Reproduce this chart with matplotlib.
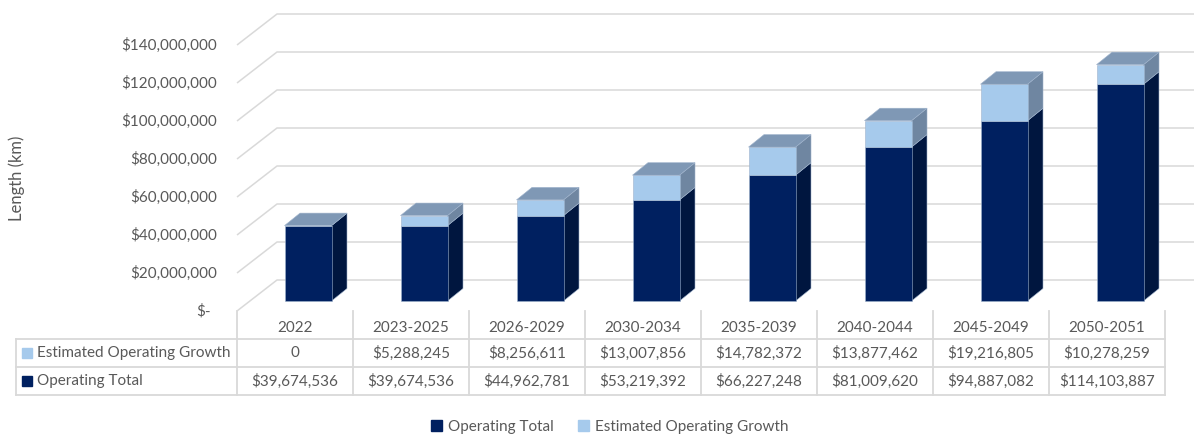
import matplotlib.pyplot as plt
from matplotlib.patches import Polygon, Patch

categorias = ['2022', '2023-2025', '2026-2029', '2030-2034', '2035-2039',
              '2040-2044', '2045-2049', '2050-2051']
crecimiento = [0, 5288245, 8256611, 13007856, 14782372, 13877462, 19216805, 10278259]
total_operativo = [39674536, 39674536, 44962781, 53219392, 66227248,
                   81009620, 94887082, 114103887]
ticks_y = [0, 20000000, 40000000, 60000000, 80000000, 100000000, 120000000, 140000000]
etiquetas_filas = ['Estimated Operating Growth', 'Operating Total']

plt.rcParams['font.family'] = ['Lato', 'DejaVu Sans']
GRIS = '#595959'
LINEA = '#D9D9D9'
AZUL = '#002060'
AZUL_LADO = '#00163F'
CLARO = '#A6CAEC'
CLARO_LADO = '#6F86A1'
TAPA = '#7F98B5'

# escala: 116 px por categoria, 1.9 px por millon, origen en (237, 311) px
PX_CAT = 116.0
PX_M = 1.9e-6
W, H = 1194, 434


def px_x(p):
    return -0.5 + (p - 237) / PX_CAT


def px_y(p):
    return (311 - p) / PX_M


fig = plt.figure(figsize=(W / 100, H / 100), dpi=100)
ax = fig.add_axes([0, 0, 1, 1])
ax.set_xlim(px_x(0), px_x(W))
ax.set_ylim(px_y(H), px_y(0))
ax.set_axis_off()

# profundidad de la pared y de las barras
pared_dx, pared_dy = 40 / PX_CAT, 31 / PX_M
fx, fy = 13 / PX_CAT, 10 / PX_M
bx, by = 15.5 / PX_CAT, 12.5 / PX_M
hw = 23.5 / PX_CAT
n = len(categorias)

# lineas de cuadricula (suelo + pared del fondo)
for v in ticks_y:
    ax.plot([-0.5, -0.5 + pared_dx, n - 0.5 + pared_dx], [v, v + pared_dy, v + pared_dy],
            color=LINEA, lw=1.1, zorder=1, solid_capstyle='butt')
    txt = '$-' if v == 0 else f'${v:,.0f}'
    xt = px_x(211) if v == 0 else px_x(217)
    ax.text(xt, v, txt, ha='right', va='center', color=GRIS, fontsize=11)

ax.text(px_x(17), px_y(178), 'Length (km)', rotation=90, ha='center', va='center',
        color=GRIS, fontsize=12)


def caja(xc, y0, y1, c_frente, c_lado, c_tapa=None):
    x0, x1 = xc - hw + fx, xc + hw + fx
    a0, a1 = y0 + fy, y1 + fy
    lado = [(x1, a0), (x1 + bx, a0 + by), (x1 + bx, a1 + by), (x1, a1)]
    frente = [(x0, a0), (x1, a0), (x1, a1), (x0, a1)]
    ax.add_patch(Polygon(lado, closed=True, fc=c_lado, ec='#9FB3CC', lw=0.4, zorder=3))
    ax.add_patch(Polygon(frente, closed=True, fc=c_frente, ec='#9FB3CC', lw=0.4, zorder=3))
    if c_tapa:
        tapa = [(x0, a1), (x1, a1), (x1 + bx, a1 + by), (x0 + bx, a1 + by)]
        ax.add_patch(Polygon(tapa, closed=True, fc=c_tapa, ec='#9FB3CC', lw=0.4, zorder=3))


for i in range(n):
    base = total_operativo[i]
    caja(i, 0, base, AZUL, AZUL_LADO)
    caja(i, base, base + crecimiento[i], CLARO, CLARO_LADO, TAPA)

# tabla de datos
filas_px = [311, 339, 367, 395]
for k in range(n + 1):
    ax.plot([k - 0.5, k - 0.5], [px_y(311), px_y(395)], color=LINEA, lw=1.3, zorder=1)
ax.plot([px_x(16), px_x(16)], [px_y(339), px_y(395)], color=LINEA, lw=1.3, zorder=1)
for p in filas_px[1:]:
    ax.plot([px_x(16), n - 0.5], [px_y(p), px_y(p)], color=LINEA, lw=1.3, zorder=1)

for i, cat in enumerate(categorias):
    ax.text(i, px_y(328), cat, ha='center', va='center', color=GRIS, fontsize=11)
    g = crecimiento[i]
    ax.text(i, px_y(353), '0' if g == 0 else f'${g:,.0f}', ha='center', va='center',
            color=GRIS, fontsize=11)
    ax.text(i, px_y(381), f'${total_operativo[i]:,.0f}', ha='center', va='center',
            color=GRIS, fontsize=11)

for etiqueta, color, yp in zip(etiquetas_filas, [CLARO, AZUL], [353, 381]):
    ax.plot(px_x(27), px_y(yp), marker='s', ms=6.5, color=color, mec=color, ls='none')
    ax.text(px_x(37), px_y(yp), etiqueta, ha='left', va='center', color=GRIS, fontsize=11)

# leyenda
handles = [Patch(color=AZUL, label='Operating Total'),
           Patch(color=CLARO, label='Estimated Operating Growth')]
fig.legend(handles=handles, loc='center', bbox_to_anchor=(610 / W, 7 / H), ncol=2,
           frameon=False, fontsize=11, labelcolor=GRIS, handlelength=0.7,
           handleheight=0.7, handletextpad=0.4, columnspacing=1.6)

fig.savefig('out.png', dpi=100)
